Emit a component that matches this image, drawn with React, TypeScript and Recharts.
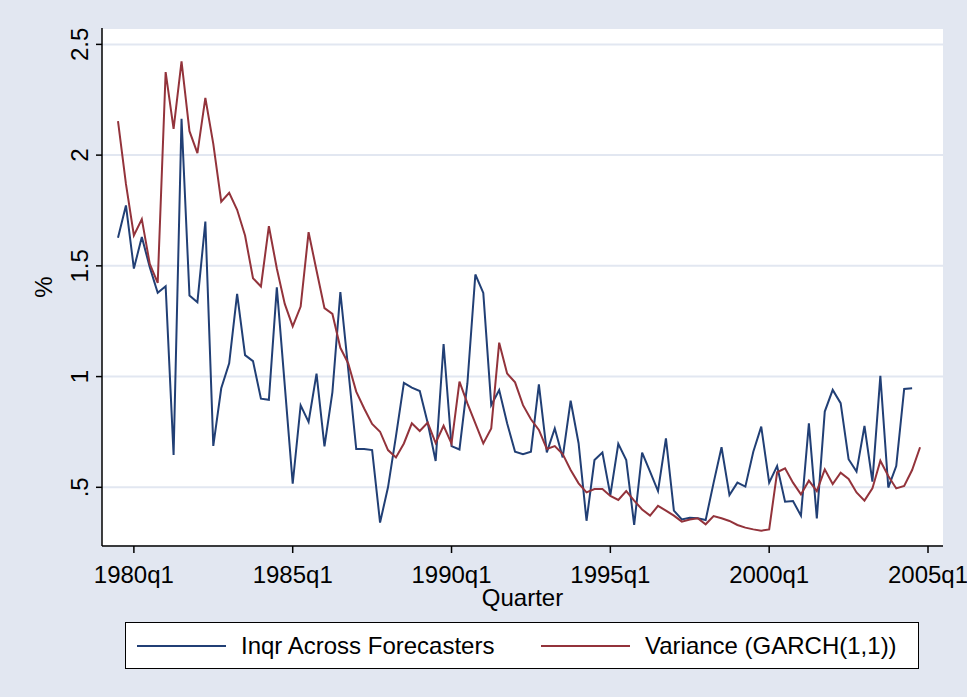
import React from "react";
import { LineChart, Line, XAxis, YAxis, CartesianGrid, Legend } from "recharts";

// quarters 1979q3 .. 2004q4
const FIRST_YEAR = 1979;
const FIRST_Q = 3;
const N_QUARTERS = 102;
const quarters: string[] = [];
for (let i = 0; i < N_QUARTERS; i++) {
  const t = FIRST_Q - 1 + i;
  quarters.push(`${FIRST_YEAR + Math.floor(t / 4)}q${(t % 4) + 1}`);
}

// Inqr Across Forecasters (ends 2004q3)
const inqr = [
  1.627, 1.773, 1.488, 1.63, 1.494, 1.378, 1.408, 0.646, 2.164, 1.366,
  1.336, 1.7, 0.687, 0.947, 1.06, 1.373, 1.097, 1.07, 0.9, 0.895,
  1.403, 0.96, 0.516, 0.87, 0.795, 1.013, 0.685, 0.93, 1.382, 1.03,
  0.673, 0.673, 0.668, 0.341, 0.5, 0.73, 0.972, 0.95, 0.935, 0.79,
  0.619, 1.147, 0.686, 0.671, 0.97, 1.461, 1.378, 0.871, 0.939, 0.789,
  0.661, 0.65, 0.661, 0.965, 0.658, 0.766, 0.635, 0.891, 0.699, 0.349,
  0.623, 0.657, 0.465, 0.696, 0.623, 0.33, 0.657, 0.571, 0.483, 0.721,
  0.395, 0.355, 0.363, 0.36, 0.352, 0.52, 0.681, 0.465, 0.521, 0.503,
  0.661, 0.774, 0.521, 0.596, 0.435, 0.438, 0.372, 0.789, 0.36, 0.842,
  0.94, 0.88, 0.627, 0.571, 0.777, 0.526, 1.003, 0.499, 0.596, 0.944,
  0.947,
];

// Variance (GARCH(1,1))
const garch = [
  2.154, 1.87, 1.637, 1.711, 1.509, 1.423, 2.375, 2.119, 2.423, 2.108,
  2.009, 2.258, 2.051, 1.79, 1.83, 1.753, 1.637, 1.444, 1.407, 1.679,
  1.488, 1.328, 1.227, 1.316, 1.652, 1.479, 1.309, 1.283, 1.13, 1.059,
  0.932, 0.856, 0.786, 0.751, 0.668, 0.635, 0.698, 0.789, 0.754, 0.792,
  0.7, 0.778, 0.697, 0.977, 0.879, 0.789, 0.698, 0.766, 1.153, 1.014,
  0.974, 0.871, 0.807, 0.759, 0.673, 0.686, 0.65, 0.578, 0.518, 0.477,
  0.492, 0.492, 0.461, 0.443, 0.483, 0.44, 0.4, 0.372, 0.416, 0.395,
  0.372, 0.345, 0.355, 0.36, 0.333, 0.37, 0.36, 0.348, 0.33, 0.318,
  0.31, 0.304, 0.31, 0.568, 0.586, 0.521, 0.468, 0.53, 0.483, 0.581,
  0.515, 0.566, 0.538, 0.477, 0.44, 0.495, 0.62, 0.551, 0.495, 0.506,
  0.578, 0.681,
];

const xTickLabels = ["1980q1", "1985q1", "1990q1", "1995q1", "2000q1", "2005q1"];
const yTickValues = [0.5, 1, 1.5, 2, 2.5];

const FONT = '"Liberation Sans", Arial, Helvetica, sans-serif';
const FS = 24;
const BG = "#E2E7F1";
const NAVY = "#213F75";
const MAROON = "#93333B";

const qIndex = (label: string) => {
  const year = parseInt(label.slice(0, 4), 10);
  const q = parseInt(label.slice(5), 10);
  return (year - FIRST_YEAR) * 4 + (q - FIRST_Q);
};
const xTicks = xTickLabels.map(qIndex);
const xLabel = (v: number) => {
  const t = FIRST_Q - 1 + v;
  return `${FIRST_YEAR + Math.floor(t / 4)}q${(t % 4) + 1}`;
};

const data = quarters.map((q, i) => ({
  t: i,
  quarter: q,
  inqr: inqr[i] ?? null,
  garch: garch[i] ?? null,
}));

const fmtY = (v: number) => String(v).replace(/^0\./, ".");

const YTick = (props: any) => {
  const { x, y, payload } = props;
  return (
    <text
      x={x}
      y={y}
      transform={`rotate(-90 ${x} ${y})`}
      textAnchor="middle"
      fontSize={FS}
      fontFamily={FONT}
      fill="#000"
    >
      {fmtY(payload.value)}
    </text>
  );
};

const renderLegend = (props: any) => {
  const items = props.payload || [];
  const starts = [11, 415];
  return (
    <div
      style={{
        position: "relative",
        width: 794,
        height: 47,
        boxSizing: "border-box",
        border: "1px solid #000",
        background: "#fff",
        fontFamily: FONT,
        fontSize: FS,
        color: "#000",
      }}
    >
      {items.map((item: any, i: number) => (
        <div
          key={i}
          style={{
            position: "absolute",
            left: starts[i],
            top: 0,
            height: 45,
            display: "flex",
            alignItems: "center",
            whiteSpace: "nowrap",
          }}
        >
          <div style={{ width: 89, height: 2, background: item.color, marginRight: 15 }} />
          <span>{item.value}</span>
        </div>
      ))}
    </div>
  );
};

export default function App() {
  return (
    <div style={{ width: 967, height: 697, background: BG, position: "relative" }}>
      <style>{"body{margin:0}"}</style>
      <LineChart
        width={967}
        height={697}
        data={data}
        margin={{ top: 28, right: 24, bottom: 91, left: 22 }}
      >
        <CartesianGrid vertical={false} fill="#fff" fillOpacity={1} stroke={BG} strokeWidth={2} />
        <XAxis
          type="number"
          dataKey="t"
          domain={[0, 102]}
          ticks={xTicks}
          interval={0}
          tickFormatter={xLabel}
          padding={{ left: 16, right: 15 }}
          height={60}
          tickSize={7}
          tickMargin={13}
          axisLine={{ stroke: "#000", strokeWidth: 1.5 }}
          tickLine={{ stroke: "#000", strokeWidth: 1.5 }}
          tick={{ fontSize: FS, fontFamily: FONT, fill: "#000" }}
          label={{
            content: () => (
              <text x={522.5} y={606} textAnchor="middle" fontSize={FS} fontFamily={FONT} fill="#000">
                Quarter
              </text>
            ),
          }}
        />
        <YAxis
          type="number"
          domain={[0.235, 2.574]}
          allowDataOverflow
          ticks={yTickValues}
          interval={0}
          width={80}
          tickSize={6}
          tickMargin={8}
          axisLine={{ stroke: "#000", strokeWidth: 1.5 }}
          tickLine={{ stroke: "#000", strokeWidth: 1.5 }}
          tick={<YTick />}
          label={{
            content: () => (
              <text
                x={52}
                y={287}
                transform="rotate(-90 52 287)"
                textAnchor="middle"
                fontSize={FS}
                fontFamily={FONT}
                fill="#000"
              >
                %
              </text>
            ),
          }}
        />
        <Line
          name="Inqr Across Forecasters"
          dataKey="inqr"
          type="linear"
          stroke={NAVY}
          strokeWidth={2}
          dot={false}
          isAnimationActive={false}
        />
        <Line
          name="Variance (GARCH(1,1))"
          dataKey="garch"
          type="linear"
          stroke={MAROON}
          strokeWidth={2}
          dot={false}
          isAnimationActive={false}
        />
        <Legend
          layout="horizontal"
          verticalAlign="middle"
          align="center"
          content={renderLegend}
          wrapperStyle={{ left: 125, top: 622, width: 794, height: 47 }}
        />
      </LineChart>
    </div>
  );
}
